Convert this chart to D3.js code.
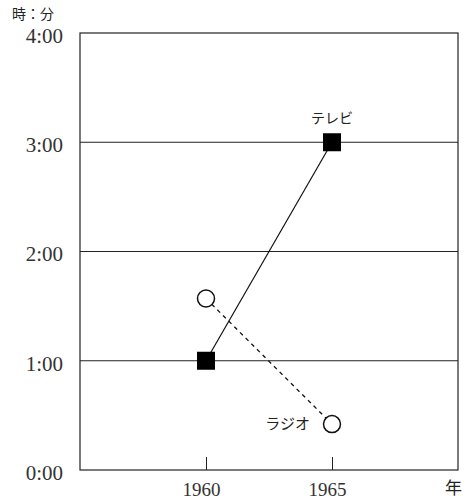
<!DOCTYPE html>
<html>
<head>
<meta charset="utf-8">
<script src="https://cdn.jsdelivr.net/npm/d3@7"></script>
<style>
  body { margin: 0; background: #fff; }
  text { font-family: "Liberation Serif", "Noto Sans CJK JP", serif; fill: #333; }
  .jp { font-family: "Noto Sans CJK JP", sans-serif; fill: #222; }
</style>
</head>
<body>
<svg width="468" height="501"></svg>
<script>
  // years and hours (decimal hours)
  var years = [1960, 1965];
  var tv = [1.0, 3.0];
  var radio = [1.57, 0.42];
  var yTicks = [0, 1, 2, 3, 4];
  var yTickLabels = ["0:00", "1:00", "2:00", "3:00", "4:00"];

  var svg = d3.select("svg");
  var plotLeft = 80, plotRight = 458, plotTop = 33, plotBottom = 470;

  var x = d3.scaleLinear().domain([1955, 1970]).range([plotLeft, plotRight]);
  var y = d3.scaleLinear().domain([0, 4]).range([plotBottom, plotTop]);

  // grid lines
  svg.append("g").selectAll("line")
      .data([1, 2, 3])
      .join("line")
      .attr("x1", plotLeft).attr("x2", plotRight)
      .attr("y1", function(d) { return y(d); })
      .attr("y2", function(d) { return y(d); })
      .attr("stroke", "#222").attr("stroke-width", 1);

  // frame
  svg.append("rect")
      .attr("x", plotLeft).attr("y", plotTop)
      .attr("width", plotRight - plotLeft).attr("height", plotBottom - plotTop)
      .attr("fill", "none").attr("stroke", "#222").attr("stroke-width", 1.2);

  // x axis ticks (inside)
  var xAxis = d3.axisBottom(x).tickValues(years).tickSizeInner(-13).tickSizeOuter(0).tickPadding(13)
      .tickFormat(d3.format("d"));
  var gx = svg.append("g").attr("transform", "translate(0," + plotBottom + ")").call(xAxis);
  gx.select(".domain").remove();
  gx.selectAll(".tick line").attr("stroke", "#222");
  gx.selectAll(".tick text").attr("font-size", 19).attr("font-family", "Liberation Serif")
      .attr("fill", "#333").attr("dx", -5);

  // y axis labels
  var yAxis = d3.axisLeft(y).tickValues(yTicks).tickSize(0).tickPadding(17)
      .tickFormat(function(d, i) { return yTickLabels[i]; });
  var gy = svg.append("g").attr("transform", "translate(" + plotLeft + ",0)").call(yAxis);
  gy.select(".domain").remove();
  gy.selectAll(".tick text").attr("font-size", 21).attr("font-family", "Liberation Serif")
      .attr("fill", "#333").attr("dy", "0.45em");

  svg.append("text").attr("class", "jp").attr("x", 12).attr("y", 19)
      .attr("font-size", 14).text("時：分");
  svg.append("text").attr("class", "jp").attr("x", 445).attr("y", 494)
      .attr("font-size", 17).text("年");

  // lines
  var line = d3.line().x(function(d, i) { return x(years[i]); }).y(function(d) { return y(d); });
  svg.append("path").datum(radio).attr("d", line)
      .attr("fill", "none").attr("stroke", "#111").attr("stroke-width", 1.3)
      .attr("stroke-dasharray", "4,4");
  svg.append("path").datum(tv).attr("d", line)
      .attr("fill", "none").attr("stroke", "#111").attr("stroke-width", 1.2);

  svg.append("g").selectAll("circle").data(radio).join("circle")
      .attr("cx", function(d, i) { return x(years[i]); })
      .attr("cy", function(d) { return y(d); })
      .attr("r", 8.5).attr("fill", "#fff").attr("stroke", "#111").attr("stroke-width", 1.5);

  svg.append("g").selectAll("rect").data(tv).join("rect")
      .attr("x", function(d, i) { return x(years[i]) - 9; })
      .attr("y", function(d) { return y(d) - 9; })
      .attr("width", 18).attr("height", 18).attr("fill", "#000");

  svg.append("text").attr("class", "jp").attr("x", x(1965)).attr("y", y(3) - 19)
      .attr("text-anchor", "middle").attr("font-size", 14).text("テレビ");
  svg.append("text").attr("class", "jp").attr("x", x(1965) - 22).attr("y", y(radio[1]) + 5)
      .attr("text-anchor", "end").attr("font-size", 15).text("ラジオ");
</script>
</body>
</html>
